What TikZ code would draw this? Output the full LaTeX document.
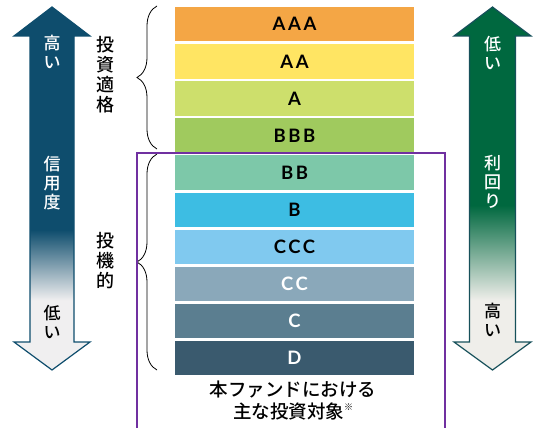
\documentclass[tikz,border=0pt]{standalone}
\usepackage{fontspec}
\setmainfont{Noto Sans CJK JP}[UprightFont=* Medium, BoldFont=* Bold]
\newfontfamily\ratingfont[LetterSpace=14]{Lato}
\usetikzlibrary{positioning, decorations.pathreplacing}
\definecolor{ratingAAA}{HTML}{F4A645}
\definecolor{ratingAA}{HTML}{FFE563}
\definecolor{ratingA}{HTML}{CDDF6C}
\definecolor{ratingBBB}{HTML}{A0CA5E}
\definecolor{ratingBB}{HTML}{7DC8A9}
\definecolor{ratingB}{HTML}{3DBDE3}
\definecolor{ratingCCC}{HTML}{80C9EF}
\definecolor{ratingCC}{HTML}{8AA8BA}
\definecolor{ratingC}{HTML}{5B7E90}
\definecolor{ratingD}{HTML}{3A5A6E}
\definecolor{fundline}{HTML}{7030A0}
\definecolor{creditdark}{HTML}{0E4D6D}
\definecolor{creditlight}{HTML}{F0EFF0}
\definecolor{creditline}{HTML}{0E4D6D}
\definecolor{yielddark}{HTML}{00683F}
\definecolor{yieldlight}{HTML}{EFEEEA}
\definecolor{yieldline}{HTML}{16505A}
\pgfdeclareverticalshading{creditshading}{100bp}{color(0bp)=(creditlight); color(34.6bp)=(creditlight); color(44.3bp)=(creditdark); color(100bp)=(creditdark)}
\pgfdeclareverticalshading{yieldshading}{100bp}{color(0bp)=(yieldlight); color(34.6bp)=(yieldlight); color(47.7bp)=(yielddark); color(100bp)=(yielddark)}
\tikzset{
    rating/.style={minimum width=239pt, minimum height=34.5pt, inner sep=0pt,
      font=\ratingfont\bfseries\fontsize{18.5}{18.5}\selectfont},
    vlabel/.style={align=center, inner sep=0pt, font=\fontsize{17}{19}\selectfont},
    grouplabel/.style={align=center, inner sep=0pt, font=\fontsize{18}{20}\selectfont},
    grade brace/.style={decorate, decoration={brace, amplitude=20pt}, line width=0.8pt},
}

\begin{document}
\begin{tikzpicture}[x=1pt, y=-1pt]
    \useasboundingbox (0,0) rectangle (536,428);

    \shadedraw[shading=creditshading, draw=creditline, line width=1.2pt]
      (52,7) -- (90,36) -- (74,36) -- (74,342) -- (90,342) -- (52,370)
      -- (14,342) -- (30,342) -- (30,36) -- (14,36) -- cycle;
    \node[vlabel, text=white] (credithigh) at (52,52) {高\\い};
    \node[vlabel, text=white] (credit) at (52,183) {信\\用\\度};
    \node[vlabel] (creditlow) at (52,322) {低\\い};

    \node[grouplabel] (invest) at (105,75) {投\\資\\適\\格};
    \node[grouplabel] (spec) at (105,261) {投\\機\\的};
    \draw[grade brace] (157,149) -- (157,6);
    \draw[grade brace] (157,370) -- (157,154);

    \node[rating, fill=ratingAAA] (aaa) at (294.5,24.25) {AAA};
    \node[rating, fill=ratingAA, below=2.2pt of aaa] (aa) {AA};
    \node[rating, fill=ratingA, below=2.2pt of aa] (a) {A};
    \node[rating, fill=ratingBBB, below=2.2pt of a] (bbb) {BBB};
    \node[rating, fill=ratingBB, below=2.2pt of bbb] (bb) {BB};
    \node[rating, fill=ratingB, below=2.2pt of bb] (b) {B};
    \node[rating, fill=ratingCCC, below=2.2pt of b] (ccc) {CCC};
    \node[rating, fill=ratingCC, text=white, below=2.2pt of ccc] (cc) {CC};
    \node[rating, fill=ratingC, text=white, below=2.2pt of cc] (c) {C};
    \node[rating, fill=ratingD, text=white, below=2.2pt of c] (d) {D};

    \draw[fundline, line width=2.4pt] (137,432) -- (137,153) -- (445,153) -- (445,432);
    \node[align=center, inner sep=0pt, font=\fontsize{18.5}{22}\selectfont] (target) at (293,401)
      {本ファンドにおける\\主な投資対象\raisebox{.45em}{\fontsize{9}{9}\selectfont ※}};

    \shadedraw[shading=yieldshading, draw=yieldline, line width=1.2pt]
      (492.5,7) -- (531,36) -- (515.5,36) -- (515.5,342) -- (531,342) -- (492.5,370)
      -- (454,342) -- (469.5,342) -- (469.5,36) -- (454,36) -- cycle;
    \node[vlabel, text=white] (yieldlow) at (492.5,53) {低\\い};
    \node[vlabel, text=white] (yield) at (492.5,182) {利\\回\\り};
    \node[vlabel] (yieldhigh) at (492.5,320) {高\\い};
\end{tikzpicture}
\end{document}
